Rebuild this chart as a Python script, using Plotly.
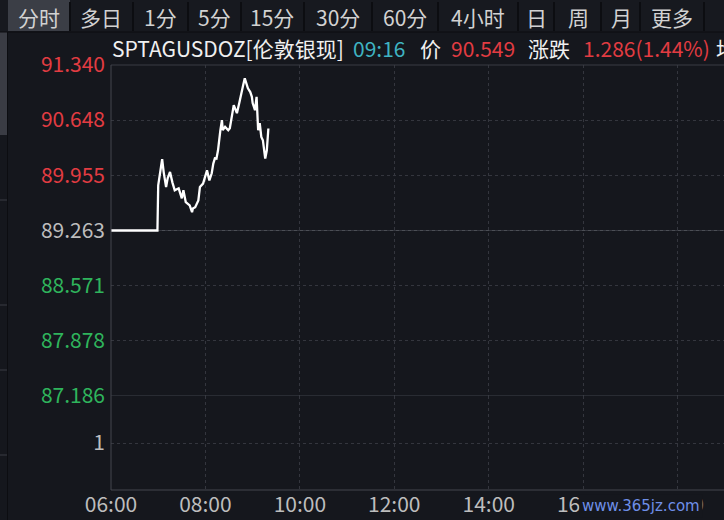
import plotly.graph_objects as go

# ---------------- data ----------------
day = "2024-01-02 "
times = ["06:00", "06:59", "07:00", "07:02", "07:05", "07:07", "07:10", "07:12", "07:15", "07:18",
         "07:21", "07:26", "07:30", "07:32", "07:35", "07:40", "07:43", "07:44", "07:47", "07:51",
         "07:53", "07:57", "08:02", "08:05", "08:08", "08:10", "08:12", "08:14", "08:16", "08:19",
         "08:21", "08:22", "08:25", "08:29", "08:31", "08:36", "08:40", "08:43", "08:46", "08:48",
         "08:50", "08:52", "08:54", "08:57", "08:59", "09:00", "09:03", "09:05", "09:06", "09:07",
         "09:09", "09:11", "09:13", "09:16", "09:18", "09:20"]
prices = [89.263, 89.263, 89.829, 89.955, 90.157, 89.993, 89.808, 89.918, 89.997, 89.867,
          89.767, 89.792, 89.666, 89.767, 89.619, 89.578, 89.493, 89.540, 89.556, 89.641,
          89.808, 89.851, 90.018, 89.892, 89.981, 90.103, 90.169, 90.165, 90.270, 90.522,
          90.648, 90.522, 90.563, 90.522, 90.547, 90.837, 90.736, 90.862, 91.025, 91.088,
          91.173, 91.101, 91.047, 91.000, 90.941, 90.862, 90.774, 90.941, 90.711, 90.522,
          90.610, 90.437, 90.396, 90.166, 90.270, 90.543]

price_ticks = [91.340, 90.648, 89.955, 89.263, 88.571, 87.878, 87.186]
price_tick_colors = ["#e23c42", "#e23c42", "#e23c42", "#bdbdbd", "#2fb45c", "#2fb45c", "#2fb45c"]
x_ticks = ["06:00", "08:00", "10:00", "12:00", "14:00", "16:00", "18:00"]
tabs = ["分时", "多日", "1分", "5分", "15分", "30分", "60分", "4小时", "日", "周", "月", "更多"]
tab_centers = [39, 101, 160, 214, 272, 338, 405, 478, 536, 578, 621, 672]
tab_edges = [8, 70, 133, 188, 241, 304, 372, 438, 518, 554, 601, 640, 704]

BG = "#15171d"
FONT = "Noto Sans CJK SC, Noto Sans, sans-serif"
FS = 21

fig = go.Figure()
fig.add_trace(go.Scatter(
    x=[day + t for t in times], y=prices, mode="lines",
    line=dict(color="#ffffff", width=2.3), hoverinfo="skip", showlegend=False))
# invisible trace for volume axis
fig.add_trace(go.Scatter(x=[day + "06:00"], y=[None], yaxis="y2", mode="lines",
                         showlegend=False, hoverinfo="skip"))

grid_c = "#34363e"
fig.update_layout(
    width=724, height=520,
    margin=dict(l=111, r=0, t=65, b=30),
    paper_bgcolor=BG, plot_bgcolor=BG,
    font=dict(family=FONT, size=FS, color="#bdbdbd"),
    xaxis=dict(
        type="date", range=[day + "06:00", day + "18:59"], anchor="y2",
        tickvals=[day + t for t in x_ticks], ticktext=x_ticks,
        showgrid=True, gridcolor=grid_c, griddash="dot", gridwidth=1,
        zeroline=False, showline=False, ticks="", automargin=False,
        tickfont=dict(size=FS, color="#bdbdbd", family=FONT),
    ),
    yaxis=dict(
        domain=[0.2212, 1.0], range=[87.186, 91.340], anchor="x",
        tickvals=price_ticks,
        ticktext=[f'<span style="color:{c}">{v:.3f}</span>' for v, c in zip(price_ticks, price_tick_colors)],
        showgrid=True, gridcolor=grid_c, griddash="dot", gridwidth=1,
        zeroline=False, showline=False, ticks="", ticklabelstandoff=5, automargin=False,
        tickfont=dict(size=FS, family=FONT),
    ),
    yaxis2=dict(
        domain=[0, 0.2212], range=[0, 2], tickvals=[1], ticktext=["1"], anchor="x",
        showgrid=True, gridcolor=grid_c, griddash="dot", zeroline=False,
        showline=False, ticks="", ticklabelstandoff=5, automargin=False,
        tickfont=dict(size=FS, color="#bdbdbd", family=FONT),
    ),
)

shapes = []
line_c = "#3a3c44"
shapes.append(dict(type="line", xref="paper", yref="paper", x0=0, x1=1, y0=1, y1=1, line=dict(color=line_c, width=1)))
shapes.append(dict(type="line", xref="paper", yref="paper", x0=0, x1=1, y0=0, y1=0, line=dict(color="#45474f", width=1)))
shapes.append(dict(type="line", xref="paper", yref="paper", x0=0, x1=0, y0=0, y1=1, line=dict(color="#45474f", width=1)))
shapes.append(dict(type="line", xref="paper", yref="y", x0=0, x1=1, y0=89.263, y1=89.263, line=dict(color="#4c4f57", width=1), layer="below"))
shapes.append(dict(type="line", xref="paper", yref="y", x0=0, x1=1, y0=87.186, y1=87.186, line=dict(color="#3e4048", width=1)))

px = lambda v: (v - 111) / (724 - 111)
py = lambda v: (490 - v) / 425
# tab bar
shapes.append(dict(type="rect", xref="paper", yref="paper", x0=px(0), x1=1.0, y0=py(32), y1=py(0), fillcolor="#17191f", line=dict(width=0), layer="below"))
shapes.append(dict(type="rect", xref="paper", yref="paper", x0=px(tab_edges[0]), x1=px(tab_edges[1]), y0=py(31), y1=py(0),
                   fillcolor="#3b3e46", line=dict(width=0), layer="below"))
for e in tab_edges[1:]:
    shapes.append(dict(type="line", xref="paper", yref="paper", x0=px(e), x1=px(e), y0=py(31), y1=py(2),
                       line=dict(color="#0c0d11", width=2)))
shapes.append(dict(type="line", xref="paper", yref="paper", x0=px(0), x1=1, y0=py(32), y1=py(32), line=dict(color="#0c0d11", width=1)))
# left sidebar strip
shapes.append(dict(type="rect", xref="paper", yref="paper", x0=px(0), x1=px(7), y0=py(135), y1=py(32),
                   fillcolor="#3a3c44", line=dict(width=0), layer="below"))
for yy in [96, 200, 305, 370, 455]:
    shapes.append(dict(type="line", xref="paper", yref="paper", x0=px(0), x1=px(7), y0=py(yy), y1=py(yy),
                       line=dict(color="#3a3c44", width=1)))
shapes.append(dict(type="line", xref="paper", yref="paper", x0=px(7.5), x1=px(7.5), y0=py(520), y1=py(32),
                   line=dict(color="#0c0d11", width=1)))
fig.update_layout(shapes=shapes)

ann = []
for t, c in zip(tabs, tab_centers):
    ann.append(dict(x=px(c), y=py(17), xref="paper", yref="paper", text=t, showarrow=False,
                    xanchor="center", yanchor="middle", font=dict(size=FS, color="#d2d2d2", family=FONT)))

title_parts = [
    ("SPTAGUSDOZ[伦敦银现]", 110, "#f0f0f0"),
    ("09:16", 351, "#3fb3c2"),
    ("价", 418, "#f0f0f0"),
    ("90.549", 449, "#e23c42"),
    ("涨跌", 526, "#f0f0f0"),
    ("1.286(1.44%)", 581, "#e23c42"),
    ("均", 714, "#f0f0f0"),
]
for txt, x0, col in title_parts:
    ann.append(dict(x=px(x0), y=py(48), xref="paper", yref="paper", text=txt, showarrow=False,
                    xanchor="left", yanchor="middle", font=dict(size=FS, color=col, family=FONT)))

ann.append(dict(x=px(703), y=py(506), xref="paper", yref="paper", text="www.365jz.com", showarrow=False,
                xanchor="right", yanchor="middle", bgcolor=BG, borderpad=2,
                font=dict(size=15, color="#6f8fe8", family="DejaVu Sans")))
fig.update_layout(annotations=ann)

fig.write_html("out.html", config={"displayModeBar": False},
               post_script="document.body.style.margin='0';document.body.style.overflow='hidden';document.body.style.background='#15171d';")
